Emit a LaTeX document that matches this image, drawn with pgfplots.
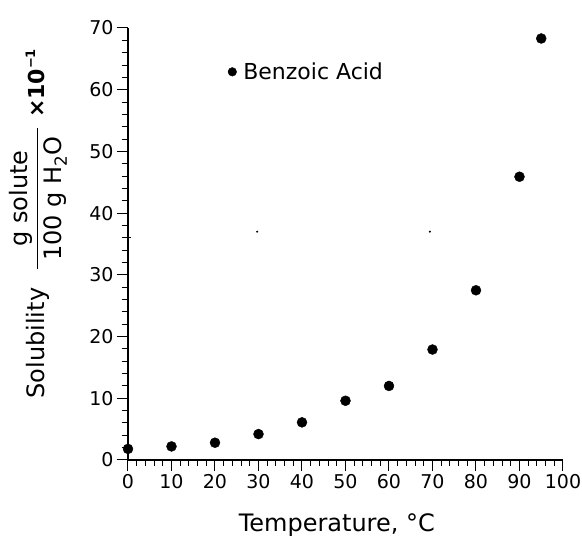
\documentclass[border=0pt]{standalone}
\usepackage{fontspec}
\setmainfont{DejaVu Sans}
\usepackage{amsmath}
\usepackage{pgfplots}
\pgfplotsset{compat=1.18}
\begin{document}
\begin{tikzpicture}
\useasboundingbox (-128pt,-78pt) rectangle (454pt,460pt);
\begin{axis}[
  width=435pt, height=432pt, scale only axis,
  xmin=0, xmax=100, ymin=0, ymax=70,
  axis x line*=bottom, axis y line*=left,
  axis line style={line width=1.2pt, -},
  xtick={0,10,...,100}, ytick={0,10,...,70},
  minor x tick num=4, minor y tick num=4,
  tick align=outside,
  major tick length=11pt, minor tick length=6pt,
  every tick/.style={black, line width=1pt},
  /pgf/number format/assume math mode=true,
  ticklabel style={font=\fontsize{19}{21}\selectfont},
  xlabel={Temperature, °C},
  xlabel style={at={(axis description cs:0.48,0)}, anchor=base, yshift=-72pt, font=\fontsize{24}{28}\selectfont},
  ylabel={Solubility\hspace{18pt}$\dfrac{\text{g solute}}{\hspace{8pt}\text{100 g H}_{\text{2}}\text{O}\hspace{8pt}}$\hspace{9pt}{\fontsize{22}{24}\selectfont\textbf{×10\raisebox{0.75ex}{\fontsize{13}{13}\selectfont −1}}}},
  ylabel style={at={(axis description cs:-0.193,0.547)}, anchor=base, font=\fontsize{24}{28}\selectfont},
  legend style={at={(axis cs:22.9,62.9)}, anchor=west, draw=none, fill=none, font=\fontsize{22}{24}\selectfont, inner sep=0pt},
  legend image code/.code={\fill (0pt,0pt) circle (4.3pt); \path[draw=none, fill=none] (4.3pt,0pt) -- (9pt,0pt);},
  clip=false,
]
\addplot[only marks, mark=*, mark size=5pt, black] coordinates {
  (0,1.8) (10,2.2) (20,2.8) (30,4.2) (40,6.1) (50,9.6) (60,12.0) (70,17.9) (80,27.5) (90,45.9) (95,68.3)
};
\addlegendentry{Benzoic Acid}
\addplot[only marks, mark=+, mark size=3pt, black, line width=1pt, forget plot] coordinates {(0,36.1)};
\addplot[only marks, mark=*, mark size=0.8pt, black, forget plot] coordinates {(29.7,37.0) (69.4,37.0)};
\end{axis}
\end{tikzpicture}
\end{document}
